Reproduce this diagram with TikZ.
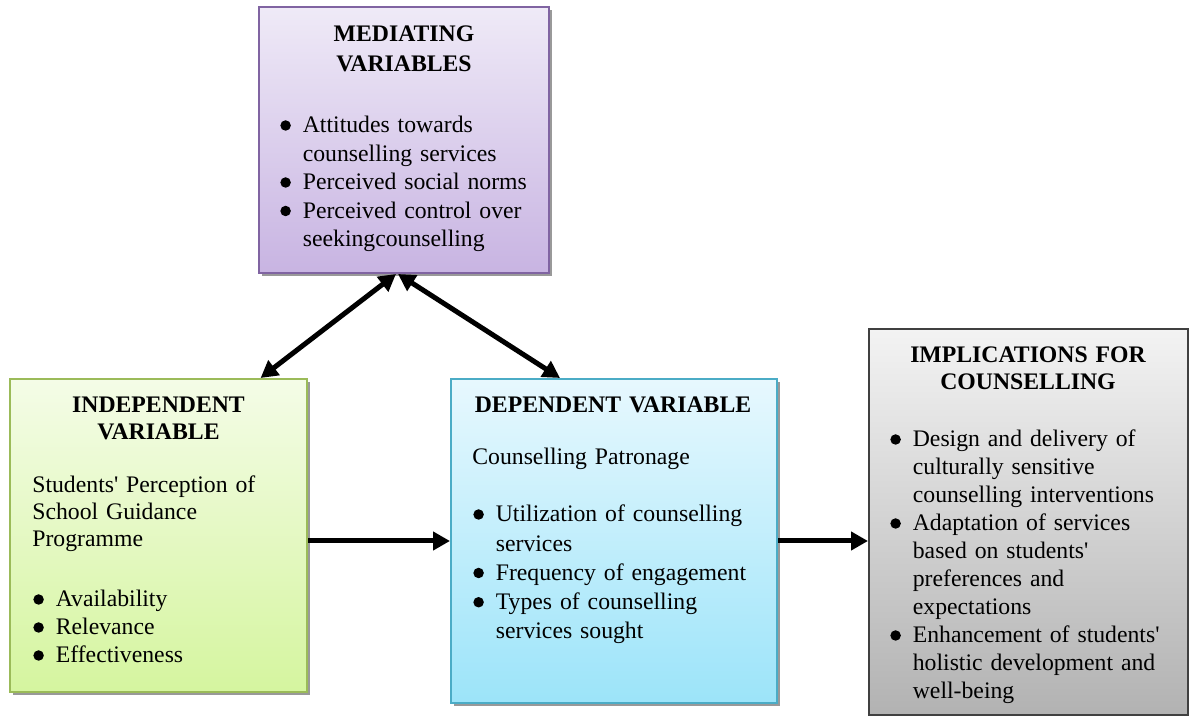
\documentclass[tikz,border=0pt]{standalone}
\usepackage{fontspec}
\setmainfont{Liberation Serif}
\usetikzlibrary{arrows.meta,calc,shadows}
\definecolor{MVLine}{HTML}{8064A2}
\definecolor{MVTop}{HTML}{EFEAF7}
\definecolor{MVBot}{HTML}{C8B4E2}
\definecolor{IVLine}{HTML}{9BBB59}
\definecolor{IVTop}{HTML}{F4FCE7}
\definecolor{IVBot}{HTML}{D5F59F}
\definecolor{DVLine}{HTML}{4BACC6}
\definecolor{DVTop}{HTML}{E7F8FE}
\definecolor{DVBot}{HTML}{9CE4F9}
\definecolor{IMLine}{HTML}{404040}
\definecolor{IMTop}{HTML}{F3F3F3}
\definecolor{IMBot}{HTML}{B2B2B2}
\newcommand{\bitem}{\makebox[0.45cm][l]{\tikz[baseline=0pt]\fill (0.11,0.15) circle (0.105cm);}}
\newcommand{\bcont}{\hspace*{0.45cm}}
\tikzset{
  varbox/.style={draw=#1Line,top color=#1Top,bottom color=#1Bot,line width=0.04cm,inner sep=0pt},
  shadowed/.style={drop shadow={shadow xshift=0.06cm,shadow yshift=-0.06cm,fill=black!40,opacity=1}},
  head/.style={anchor=base,align=center,text width=6cm,inner sep=0pt,font=\fontsize{13.5}{#1}\selectfont\bfseries},
  body/.style={anchor=base west,align=left,text width=6.2cm,inner sep=0pt,font=\fontsize{13.5}{#1}\selectfont},
  link/.style={line width=0.1cm,-{Triangle[length=0.34cm,width=0.36cm]}},
  twolink/.style={line width=0.1cm,{Triangle[length=0.34cm,width=0.36cm]}-{Triangle[length=0.34cm,width=0.36cm]}}
}

\begin{document}
\begin{tikzpicture}[x=1cm,y=1cm]
\path[use as bounding box] (0,0) rectangle (23.80,14.34);
\node[varbox=MV,shadowed,minimum width=5.80cm,minimum height=5.32cm] (med) at (8.08,11.54) {};
\node[head=0.60cm] (medhead) at (8.08,13.51) {MEDIATING\\VARIABLES};
\node[body=0.57cm] (medlist) at (5.60,11.68) {\bitem Attitudes towards\\\bcont counselling services\\\bitem Perceived social norms\\\bitem Perceived control over\\\bcont seekingcounselling};
\node[varbox=IV,shadowed,minimum width=5.94cm,minimum height=6.26cm] (ind) at (3.17,3.63) {};
\node[head=0.54cm] (indhead) at (3.17,6.08) {INDEPENDENT\\VARIABLE};
\node[body=0.54cm] (indtext) at (0.64,4.48) {Students\textquotesingle{} Perception of\\School Guidance\\Programme};
\node[body=0.56cm] (indlist) at (0.66,2.20) {\bitem Availability\\\bitem Relevance\\\bitem Effectiveness};
\node[varbox=DV,shadowed,minimum width=6.52cm,minimum height=6.48cm] (dep) at (12.28,3.52) {};
\node[head=0.54cm] (dephead) at (12.26,6.08) {DEPENDENT VARIABLE};
\node[body=0.54cm] (deptext) at (9.44,5.04) {Counselling Patronage};
\node[body=0.585cm] (deplist) at (9.46,3.90) {\bitem Utilization of counselling\\\bcont services\\\bitem Frequency of engagement\\\bitem Types of counselling\\\bcont services sought};
\node[varbox=IM,minimum width=6.38cm,minimum height=7.72cm] (imp) at (20.57,3.90) {};
\node[head=0.54cm] (imphead) at (20.56,7.08) {IMPLICATIONS FOR\\COUNSELLING};
\node[body=0.56cm] (implist) at (17.80,5.40) {\bitem Design and delivery of\\\bcont culturally sensitive\\\bcont counselling interventions\\\bitem Adaptation of services\\\bcont based on students\textquotesingle\\\bcont preferences and\\\bcont expectations\\\bitem Enhancement of students\textquotesingle\\\bcont holistic development and\\\bcont well-being};
\draw[twolink] ($(med.south)+(-0.16,0)$) -- ($(ind.north)!0.683!(ind.north east)$);
\draw[twolink] ($(med.south)+(-0.12,0)$) -- ($(dep.north)+(-1.08,0)$);
\draw[link] (ind.east |- dep.center) -- (dep.west);
\draw[link] (dep.east) -- (dep.east -| imp.west);
\end{tikzpicture}
\end{document}
